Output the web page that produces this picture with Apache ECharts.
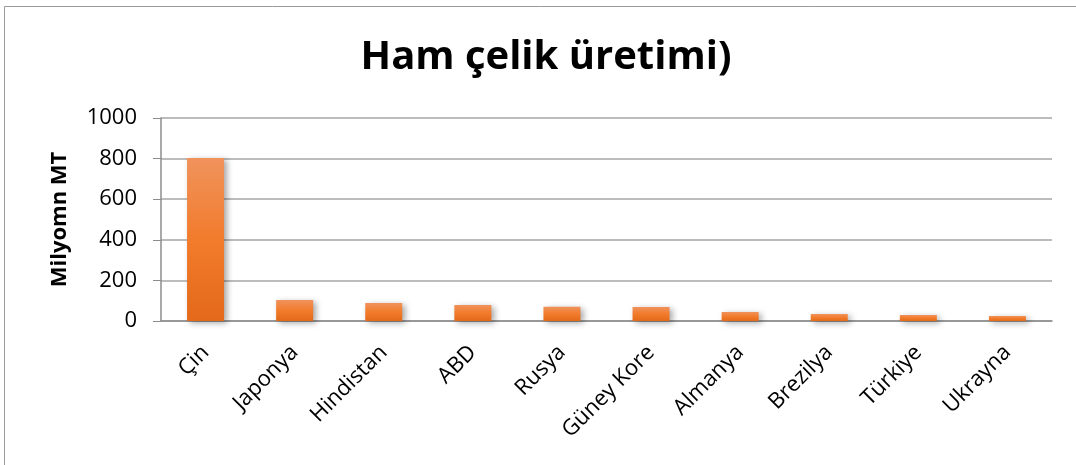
<!DOCTYPE html>
<html>
<head>
<meta charset="utf-8">
<script src="https://cdn.jsdelivr.net/npm/echarts@6/dist/echarts.min.js"></script>
<style>
  html, body { margin: 0; padding: 0; background: #fff; }
  #chart { width: 1076px; height: 465px; }
</style>
</head>
<body>
<div id="chart"></div>
<script>
  const countries = ['Çin', 'Japonya', 'Hindistan', 'ABD', 'Rusya', 'Güney Kore', 'Almanya', 'Brezilya', 'Türkiye', 'Ukrayna'];
  const production = [803, 104, 89, 79, 70, 69, 44, 34, 30, 25];
  const yTicks = [0, 200, 400, 600, 800, 1000];

  const font = '"Open Sans", sans-serif';
  const chart = echarts.init(document.getElementById('chart'));

  chart.setOption({
    animation: false,
    backgroundColor: '#fff',
    title: {
      text: 'Ham çelik üretimi)',
      left: 541,
      top: 33,
      textAlign: 'center',
      textStyle: { fontFamily: font, fontWeight: 'bold', fontSize: 40, color: '#000' }
    },
    graphic: [{
      type: 'rect',
      shape: { x: 4.5, y: 6.5, width: 1200, height: 600 },
      style: { fill: 'none', stroke: '#9a9a9a', lineWidth: 1 },
      silent: true
    }],
    grid: { left: 161, right: 24, top: 118, bottom: 144 },
    xAxis: {
      type: 'category',
      data: countries,
      axisLine: { lineStyle: { color: '#8c8c8c', width: 1.5 } },
      axisTick: { show: false },
      axisLabel: {
        rotate: 45,
        margin: 28,
        interval: 0,
        fontFamily: font,
        fontSize: 22,
        color: '#000'
      }
    },
    yAxis: {
      type: 'value',
      min: yTicks[0],
      max: yTicks[yTicks.length - 1],
      interval: yTicks[1] - yTicks[0],
      name: 'Milyomn MT',
      nameLocation: 'middle',
      nameGap: 90,
      nameTextStyle: { fontFamily: font, fontWeight: 'bold', fontSize: 22, color: '#000' },
      axisLine: { show: true, lineStyle: { color: '#8c8c8c', width: 1.5 } },
      axisTick: { show: true, length: 8, lineStyle: { color: '#8c8c8c' } },
      axisLabel: {
        fontFamily: font, fontSize: 22, color: '#000', margin: 24,
        formatter: v => String(v)
      },
      splitLine: { lineStyle: { color: '#a6a6a6', width: 1.5 } }
    },
    series: [{
      type: 'bar',
      data: production,
      barWidth: 37,
      itemStyle: {
        color: new echarts.graphic.LinearGradient(0, 0, 0, 1, [
          { offset: 0, color: '#F0935C' },
          { offset: 0.5, color: '#F27B2C' },
          { offset: 1, color: '#E4691A' }
        ]),
        shadowColor: 'rgba(0,0,0,0.35)',
        shadowBlur: 6,
        shadowOffsetX: 3,
        shadowOffsetY: 2
      }
    }]
  });
</script>
</body>
</html>
